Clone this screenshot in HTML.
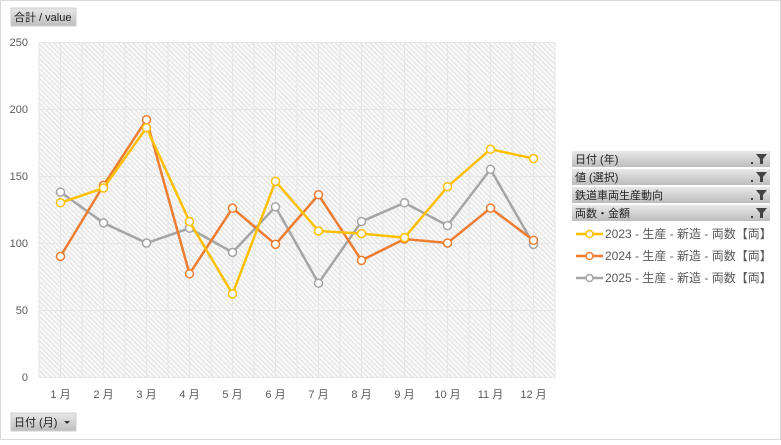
<!DOCTYPE html>
<html><head><meta charset="utf-8"><style>
body{margin:0;width:781px;height:440px;overflow:hidden;background:#fff;font-family:"Liberation Sans","Noto Sans CJK JP",sans-serif}
</style></head><body>
<svg width="781" height="440" xmlns="http://www.w3.org/2000/svg" font-family="Liberation Sans, Noto Sans CJK JP, sans-serif">
<defs>
<pattern id="h" width="3.5" height="3.5" patternUnits="userSpaceOnUse" patternTransform="rotate(-45)">
<rect width="4" height="4" fill="#f8f8f8"/><line x1="0" y1="0" x2="0" y2="4" stroke="#d6d6d6" stroke-width="1.3"/>
</pattern>
<linearGradient id="b" x1="0" y1="0" x2="0" y2="1"><stop offset="0" stop-color="#e8e8e8"/><stop offset="1" stop-color="#bdbdbd"/></linearGradient>
</defs>
<rect x="0.5" y="0.5" width="780" height="439" fill="#fff" stroke="#d9d9d9"/>
<rect x="11" y="8" width="65" height="18" fill="url(#b)" stroke="#cfcfcf"/>
<text x="14" y="21" font-size="11" fill="#222">合計 / value</text>
<rect x="39" y="42" width="516" height="335" fill="url(#h)"/>
<g stroke="#e6e6e6" stroke-width="1">
<line x1="39" y1="42.5" x2="555" y2="42.5"/><line x1="39" y1="109.5" x2="555" y2="109.5"/><line x1="39" y1="176.5" x2="555" y2="176.5"/><line x1="39" y1="243.5" x2="555" y2="243.5"/><line x1="39" y1="310.5" x2="555" y2="310.5"/><line x1="39" y1="377.5" x2="555" y2="377.5"/>
</g>
<g stroke="#e6e6e6" id="v"></g>
<g font-size="11" fill="#595959" text-anchor="end">
<text x="28" y="46">250</text><text x="28" y="113">200</text><text x="28" y="180">150</text><text x="28" y="247">100</text><text x="28" y="314">50</text><text x="28" y="381">0</text>
</g>
<g font-size="11" fill="#595959" text-anchor="middle" id="xl"></g>
<g id="series"></g>
<rect x="11" y="413" width="65" height="18" fill="url(#b)" stroke="#cfcfcf"/>
<text x="14" y="426" font-size="11" fill="#222">日付 (月)</text>
<path d="M64 421 l6 0 l-3 3z" fill="#333"/>
<g font-size="11" fill="#222">
<rect x="572" y="151" width="198" height="16" fill="url(#b)"/><text x="575" y="163">日付 (年)</text>
<rect x="572" y="169" width="198" height="16" fill="url(#b)"/><text x="575" y="181">値 (選択)</text>
<rect x="572" y="187" width="198" height="16" fill="url(#b)"/><text x="575" y="199">鉄道車両生産動向</text>
<rect x="572" y="205" width="198" height="16" fill="url(#b)"/><text x="575" y="217">両数・金額</text>
</g>
<g fill="#444">
<path d="M756 154 h11 l-4 5 v5 h-3 v-5z"/><rect x="751" y="162" width="2" height="2"/>
<path d="M756 172 h11 l-4 5 v5 h-3 v-5z"/><rect x="751" y="180" width="2" height="2"/>
<path d="M756 190 h11 l-4 5 v5 h-3 v-5z"/><rect x="751" y="198" width="2" height="2"/>
<path d="M756 208 h11 l-4 5 v5 h-3 v-5z"/><rect x="751" y="216" width="2" height="2"/>
</g>
<g font-size="12" fill="#595959">
<line x1="576" y1="234" x2="603" y2="234" stroke="#FFC000" stroke-width="2.5"/><circle cx="589.5" cy="234" r="3.5" fill="#fff" stroke="#FFC000" stroke-width="1.5"/><text x="605" y="238">2023 - 生産 - 新造 - 両数【両】</text>
<line x1="576" y1="256" x2="603" y2="256" stroke="#ED7D31" stroke-width="2.5"/><circle cx="589.5" cy="256" r="3.5" fill="#fff" stroke="#ED7D31" stroke-width="1.5"/><text x="605" y="260">2024 - 生産 - 新造 - 両数【両】</text>
<line x1="576" y1="278" x2="603" y2="278" stroke="#A5A5A5" stroke-width="2.5"/><circle cx="589.5" cy="278" r="3.5" fill="#fff" stroke="#A5A5A5" stroke-width="1.5"/><text x="605" y="282">2025 - 生産 - 新造 - 両数【両】</text>
</g>
<script>
var NS="http://www.w3.org/2000/svg";
var v=document.getElementById("v");
for(var i=0;i<=24;i++){var x=39+i*21.5;var l=document.createElementNS(NS,"line");l.setAttribute("x1",x);l.setAttribute("x2",x);l.setAttribute("y1",42);l.setAttribute("y2",377);v.appendChild(l);}
var xl=document.getElementById("xl");
for(var i=0;i<12;i++){var t=document.createElementNS(NS,"text");t.setAttribute("x",60.5+i*43);t.setAttribute("y",398);t.textContent=(i+1)+" 月";xl.appendChild(t);}
var data=[["#A5A5A5",[138,115,100,111,93,127,70,116,130,113,155,99]],["#ED7D31",[90,143,192,77,126,99,136,87,103,100,126,102]],["#FFC000",[130,141,186,116,62,146,109,107,104,142,170,163]]];
var s=document.getElementById("series");
data.forEach(function(d){var pts=d[1].map(function(v,i){return [60.5+i*43,377-v*1.34];});
var p=document.createElementNS(NS,"polyline");p.setAttribute("points",pts.map(function(a){return a.join(",")}).join(" "));p.setAttribute("fill","none");p.setAttribute("stroke",d[0]);p.setAttribute("stroke-width","2.5");s.appendChild(p);
pts.forEach(function(a){var c=document.createElementNS(NS,"circle");c.setAttribute("cx",a[0]);c.setAttribute("cy",a[1]);c.setAttribute("r",4);c.setAttribute("fill","#fff");c.setAttribute("stroke",d[0]);c.setAttribute("stroke-width","1.5");s.appendChild(c);});});
</script>
</svg>
</body></html>
